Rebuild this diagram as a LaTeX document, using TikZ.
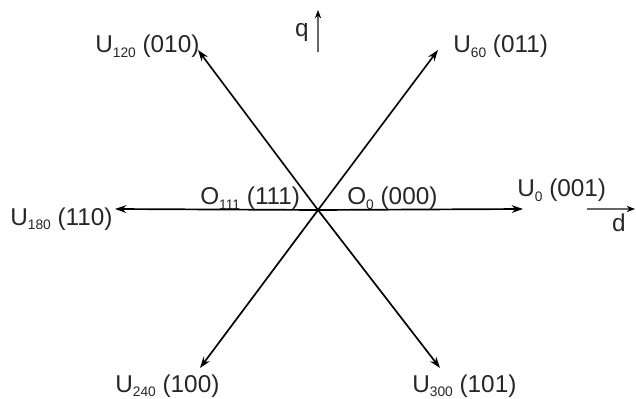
\documentclass[tikz,border=0pt]{standalone}
\usepackage{fontspec}
\setmainfont{Liberation Sans}
\usetikzlibrary{arrows.meta}
\newcommand{\svec}[3]{#1\raisebox{-0.18em}{\fontsize{9.8}{10}\selectfont #2} (#3)}

\begin{document}
\begin{tikzpicture}[x=0.025cm,y=-0.025cm,
  vec/.style={line width=1.2pt,-{Stealth[length=8pt,width=5.5pt]}},
  axis/.style={line width=0.9pt,draw=black!60,-{Stealth[length=6pt,width=4.5pt,black]}},
  lab/.style={inner sep=0pt,font=\fontsize{17.3}{19}\selectfont,text=black!85}]
\useasboundingbox (0,0) rectangle (636,399);
% Origin and vector tips
\coordinate (O) at (318,210);
\coordinate (u0) at (523,209);
\coordinate (u60) at (438,50);
\coordinate (u120) at (198,50);
\coordinate (u180) at (115,209);
\coordinate (u240) at (200,368);
\coordinate (u300) at (440,368);

% Voltage vectors
\draw[vec] (O) -- (u0);
\draw[vec] (O) -- (u60);
\draw[vec] (O) -- (u120);
\draw[vec] (O) -- (u180);
\draw[vec] (O) -- (u240);
\draw[vec] (O) -- (u300);

% d-q axes
\coordinate (q0) at (318,52);
\coordinate (q1) at (318,10);
\coordinate (d0) at (587,209);
\coordinate (d1) at (635,209);
\draw[axis] (q0) -- (q1);
\draw[axis] (d0) -- (d1);
\node[lab,anchor=base] (q) at (302,37) {q};
\node[lab,anchor=base] (d) at (619,232) {d};

% Labels
\node[lab,anchor=base west] (L0) at (517,197) {\svec{U}{0}{001}};
\node[lab,anchor=base west] (L60) at (453,53) {\svec{U}{60}{011}};
\node[lab,anchor=base west] (L120) at (95,53) {\svec{U}{120}{010}};
\node[lab,anchor=base west] (L180) at (10,225) {\svec{U}{180}{110}};
\node[lab,anchor=base west] (L240) at (115,392) {\svec{U}{240}{100}};
\node[lab,anchor=base west] (L300) at (412,392) {\svec{U}{300}{101}};
\node[lab,anchor=base west] (O111) at (200,205) {\svec{O}{111}{111}};
\node[lab,anchor=base west] (O0) at (347,205) {\svec{O}{0}{000}};
\end{tikzpicture}
\end{document}
